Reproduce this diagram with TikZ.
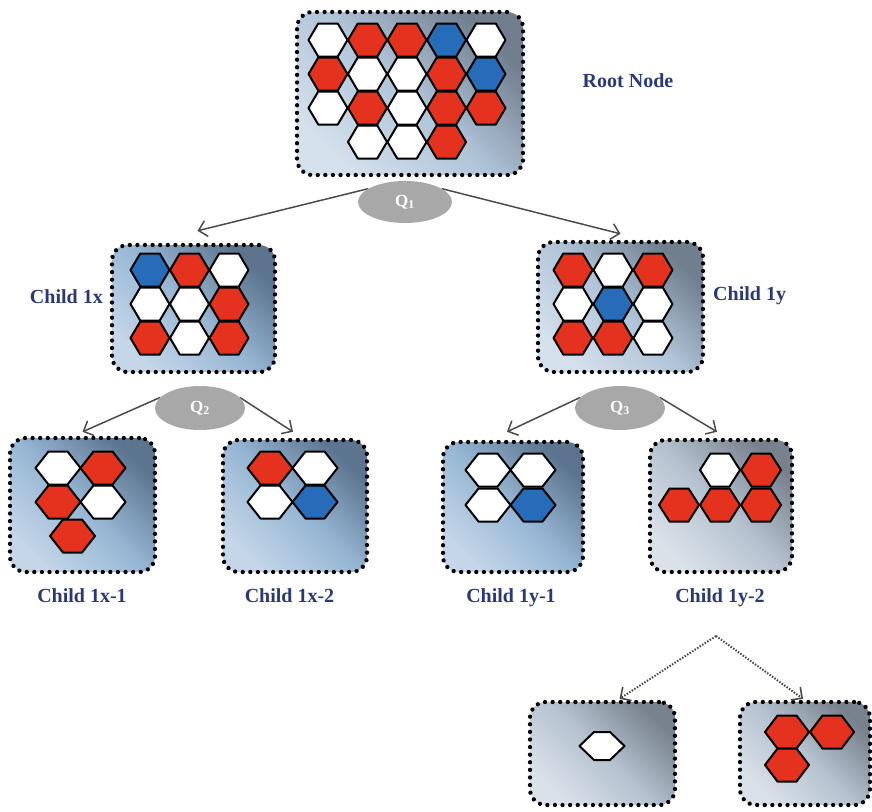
\documentclass[tikz,border=0pt]{standalone}
\usepackage{fontspec}
\setmainfont{Liberation Serif}
\usetikzlibrary{shapes.geometric,arrows.meta,backgrounds,decorations.markings}

\definecolor{hexred}{RGB}{228,50,30}
\definecolor{hexblue}{RGB}{38,108,184}
\definecolor{labelblue}{RGB}{42,56,120}
\definecolor{qgray}{RGB}{168,168,168}
\definecolor{arrowgray}{RGB}{75,75,75}
\definecolor{blueDark}{RGB}{92,116,142}
\definecolor{blueMid}{RGB}{150,182,212}
\definecolor{blueLight}{RGB}{196,214,232}
\definecolor{midDark}{RGB}{112,126,142}
\definecolor{midMid}{RGB}{176,196,216}
\definecolor{midLight}{RGB}{212,224,236}
\definecolor{grayDark}{RGB}{120,130,142}
\definecolor{grayMid}{RGB}{182,194,208}
\definecolor{grayLight}{RGB}{218,225,233}

% one hexagon cell: x, y, half width, half height, inset, fill colour
\newcommand\hexcell[6]{%
  \filldraw[hexline,fill=#6] ({#1-#3},{#2}) -- ({#1-#5},{#2-#4}) -- ({#1+#5},{#2-#4})
    -- ({#1+#3},{#2}) -- ({#1+#5},{#2+#4}) -- ({#1-#5},{#2+#4}) -- cycle;}

\tikzset{
  hexline/.style={draw=black, line width=2pt, line join=round},
  % rounded frame outlined by a row of round black dots
  box/.style={rectangle, rounded corners=16pt, inner sep=0pt,
    postaction={decorate, decoration={markings,
      mark=between positions 0 and 0.99 step 7.6pt with {\fill[black] (0,0) circle (2.15pt);}}}},
  boxblue/.style={box, bottom color=blueLight, top color=blueDark, middle color=blueMid, shading angle=-45},
  boxmid/.style={box, bottom color=midLight, top color=midDark, middle color=midMid, shading angle=-45},
  boxgray/.style={box, bottom color=grayLight, top color=grayDark, middle color=grayMid, shading angle=-45},
  lbl/.style={text=labelblue, font=\bfseries\fontsize{20}{24}\selectfont, inner sep=0pt},
  qnode/.style={ellipse, fill=qgray, minimum width=94pt, minimum height=42pt, inner sep=0pt,
    text=white, font=\bfseries\fontsize{17}{19}\selectfont},
  link/.style={draw=arrowgray, line width=1.5pt, -{Straight Barb[length=8pt,width=16pt,line width=1.5pt]}},
  dotlink/.style={draw=arrowgray, line width=2pt, dash pattern=on 1.5pt off 1.5pt,
    -{Straight Barb[length=8pt,width=16pt,line width=1.6pt]}}
}

\begin{document}
\begin{tikzpicture}[x=1pt, y=-1pt]
\useasboundingbox (0,0) rectangle (872,811);

% tree nodes
\node[boxmid,  minimum width=226pt, minimum height=163pt] (root)  at (410,93.5) {};
\node[boxblue, minimum width=163pt, minimum height=127pt] (c1x)   at (193.5,308.5) {};
\node[boxmid,  minimum width=165pt, minimum height=130pt] (c1y)   at (620.5,307) {};
\node[boxblue, minimum width=145pt, minimum height=134pt] (c1x1)  at (82.5,505) {};
\node[boxblue, minimum width=144pt, minimum height=132pt] (c1x2)  at (295,506) {};
\node[boxblue, minimum width=140pt, minimum height=130pt] (c1y1)  at (513,507) {};
\node[boxgray, minimum width=142pt, minimum height=132pt] (c1y2)  at (721,506) {};
\node[boxgray, minimum width=145pt, minimum height=103pt] (leafA) at (602.5,753.5) {};
\node[boxgray, minimum width=130pt, minimum height=103pt] (leafB) at (805,753.5) {};

% root cells
\foreach \x/\y/\c in {328/40/white, 367.5/40/hexred, 407/40/hexred, 446.5/40/hexblue, 486/40/white,
  328/74/hexred, 367.5/74/white, 407/74/white, 446.5/74/hexred, 486/74/hexblue,
  328/108/white, 367.5/108/hexred, 407/108/white, 446.5/108/hexred, 486/108/hexred,
  367.5/142/white, 407/142/white, 446.5/142/hexred}
  {\hexcell{\x}{\y}{19.5}{16.5}{9.75}{\c}}

% child 1x cells
\foreach \x/\y/\c in {150/270/hexblue, 189.5/270/hexred, 229/270/white,
  150/304/white, 189.5/304/white, 229/304/hexred,
  150/338/hexred, 189.5/338/white, 229/338/hexred}
  {\hexcell{\x}{\y}{19.5}{16.5}{9.75}{\c}}

% child 1y cells
\foreach \x/\y/\c in {573/270/hexred, 613/270/white, 653/270/hexred,
  573/304/white, 613/304/hexblue, 653/304/white,
  573/338/hexred, 613/338/hexred, 653/338/white}
  {\hexcell{\x}{\y}{19.5}{16.5}{9.75}{\c}}

% second level cells
\foreach \x/\y/\c in {58/468/white, 103/468/hexred, 58/502/hexred, 103/502/white, 72.5/536/hexred,
  270/468/hexred, 315/468/white, 270/502/white, 315/502/hexblue,
  488/470/white, 533/470/white, 488/505/white, 533/505/hexblue}
  {\hexcell{\x}{\y}{22.5}{16.5}{9.5}{\c}}
\foreach \x/\y/\c in {720/470/white, 761/470/hexred, 679/505/hexred, 720/505/hexred, 761/505/hexred}
  {\hexcell{\x}{\y}{20}{16.5}{9.5}{\c}}

% third level cells
\hexcell{602}{746}{22.5}{14}{8}{white}
\foreach \x/\y in {787/732, 832/732, 787/765}
  {\hexcell{\x}{\y}{22}{16.5}{9.5}{hexred}}

% split questions
\node[qnode] (q1) at (405,202) {Q\textsubscript{1}};
\node[qnode, minimum width=90pt, minimum height=44pt] (q2) at (200,408) {Q\textsubscript{2}};
\node[qnode, minimum width=90pt, minimum height=44pt] (q3) at (620,408) {Q\textsubscript{3}};
\coordinate (split) at (716,636);

\begin{scope}[on background layer]
  \draw[link] (q1.160) -- ([xshift=4pt,yshift=14pt]c1x.north);
  \draw[link] (q1.20)  -- ([xshift=0pt,yshift=8pt]c1y.north);
  \draw[link] (q2.165) -- ([xshift=0pt,yshift=6pt]c1x1.north);
  \draw[link] (q2.15)  -- ([xshift=-2pt,yshift=8pt]c1x2.north);
  \draw[link] (q3.165) -- ([xshift=-6pt,yshift=10pt]c1y1.north);
  \draw[link] (q3.15)  -- ([xshift=-4pt,yshift=8pt]c1y2.north);
\end{scope}
\draw[dotlink] (split) -- ([xshift=17pt,yshift=3pt]leafA.north);
\draw[dotlink] (split) -- ([xshift=-2pt,yshift=3pt]leafB.north);

% labels
\node[lbl, anchor=base] (lroot) at (628,87) {Root Node};
\node[lbl, anchor=base east] (l1x) at (103,303) {Child 1x};
\node[lbl, anchor=base west] (l1y) at (713,300) {Child 1y};
\node[lbl, anchor=base] (l1x1) at (82,602) {Child 1x-1};
\node[lbl, anchor=base] (l1x2) at (289.5,602) {Child 1x-2};
\node[lbl, anchor=base] (l1y1) at (511,602) {Child 1y-1};
\node[lbl, anchor=base] (l1y2) at (720,602) {Child 1y-2};
\end{tikzpicture}
\end{document}
